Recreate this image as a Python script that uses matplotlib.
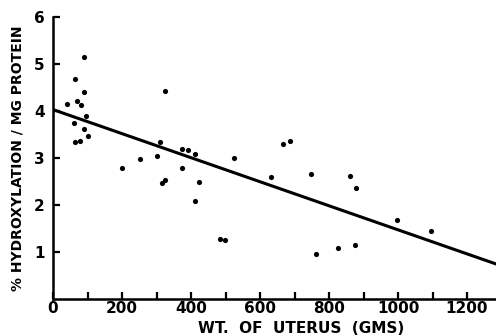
#!/usr/bin/env python3
# -*- coding: utf-8 -*-

import numpy as np
import matplotlib
matplotlib.use('Agg')
import matplotlib.pyplot as plt

# uterus weight (gms) vs % hydroxylation / mg protein
wt_uterus = [89, 64, 90, 41, 71, 81, 95, 62, 89, 101, 64, 79,
             326, 310, 373, 390, 412, 300, 251, 525, 201, 374, 325, 315, 422, 412,
             484, 499, 762, 633,
             668, 687, 749, 860, 879, 997, 1096, 827, 874]
hydroxylation = [5.14, 4.69, 4.41, 4.14, 4.22, 4.13, 3.90, 3.74, 3.62, 3.46, 3.34, 3.37,
                 4.43, 3.33, 3.19, 3.16, 3.08, 3.05, 2.98, 2.99, 2.79, 2.79, 2.54, 2.46, 2.50, 2.09,
                 1.27, 1.26, 0.95, 2.59,
                 3.30, 3.36, 2.67, 2.62, 2.36, 1.69, 1.44, 1.08, 1.15]

# regression line end points
fit_x = [0, 1290]
fit_y = [4.03, 0.73]

x_major = [0, 200, 400, 600, 800, 1000, 1200]
x_minor = [100, 300, 500, 700, 900, 1100]
y_ticks = [1, 2, 3, 4, 5, 6]

fig = plt.figure(figsize=(4.96, 3.36), dpi=100)
ax = fig.add_axes([53 / 496, 37 / 336, 443 / 496, 282 / 336])

ax.scatter(wt_uterus, hydroxylation, s=14, color='black', zorder=3, linewidths=0)
ax.plot(fit_x, fit_y, color='black', linewidth=2.2, solid_capstyle='butt')

ax.set_xlim(0, 1284)
ax.set_ylim(0, 6)

for side in ['top', 'right']:
    ax.spines[side].set_visible(False)
for side in ['left', 'bottom']:
    ax.spines[side].set_linewidth(1.8)
    ax.spines[side].set_clip_on(False)

ax.set_xticks(x_major)
ax.set_xticks(x_minor, minor=True)
ax.set_yticks(y_ticks)

tick_font = dict(family='DejaVu Sans', weight='bold', size=11)
ax.set_xticklabels([str(v) for v in x_major], **tick_font)
ax.set_yticklabels([str(v) for v in y_ticks], **tick_font)
ax.tick_params(axis='both', which='both', direction='in', length=5, width=1.6)
ax.tick_params(axis='x', which='both', pad=1.5)
ax.tick_params(axis='y', pad=6)

ax.set_xlabel('WT.  OF  UTERUS  (GMS)', family='DejaVu Sans', weight='bold', size=11)
ax.xaxis.set_label_coords((301 - 53) / 443, -0.078)
ax.set_ylabel('% HYDROXYLATION / MG PROTEIN', family='DejaVu Sans', weight='bold', size=10)
ax.yaxis.set_label_coords(-0.065, 0.5)

plt.savefig('out.png', dpi=100, facecolor='white')
